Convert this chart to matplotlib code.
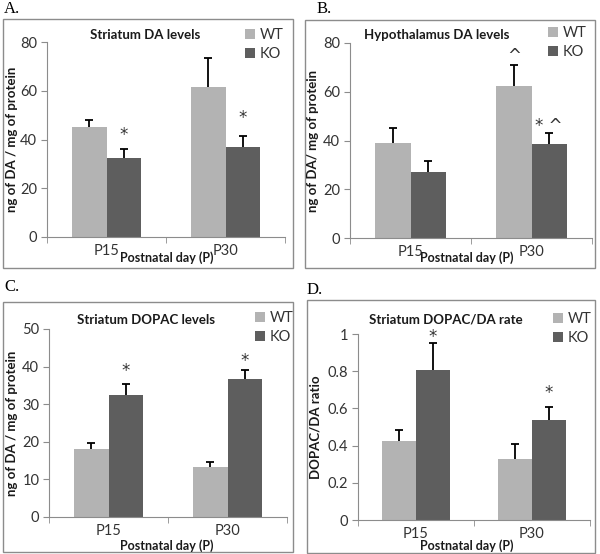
import numpy as np
import matplotlib
matplotlib.use("Agg")
import matplotlib.pyplot as plt
from matplotlib.patches import Rectangle

# data
days = ["P15", "P30"]
groups = ["WT", "KO"]

a_wt = [45.2, 61.5]
a_wt_err = [2.8, 12.0]
a_ko = [32.5, 37.0]
a_ko_err = [3.5, 4.5]

b_wt = [39.0, 62.5]
b_wt_err = [6.3, 8.5]
b_ko = [27.0, 38.5]
b_ko_err = [4.5, 4.5]

c_wt = [18.0, 13.3]
c_wt_err = [1.7, 1.3]
c_ko = [32.5, 36.7]
c_ko_err = [3.0, 2.3]

d_wt = [0.425, 0.33]
d_wt_err = [0.06, 0.08]
d_ko = [0.805, 0.535]
d_ko_err = [0.145, 0.075]

# significance marks: (series, day index, text, y)
a_marks = [("KO", 0, "*", 42.0), ("KO", 1, "*", 49.0)]
b_marks = [("WT", 1, "^", 74.5), ("KO", 1, "* ^", 46.0)]
c_marks = [("KO", 0, "*", 38.8), ("KO", 1, "*", 41.5)]
d_marks = [("KO", 0, "*", 0.985), ("KO", 1, "*", 0.685)]

W, H = 600, 554
WT_COL = "#b3b3b3"
KO_COL = "#5e5e5e"
GRID_COL = "#8c8c8c"
TXT = "#333333"

fig = plt.figure(figsize=(6, 5.54), dpi=100)
fig.patch.set_facecolor("white")


def fx(px):
    return px / W


def fy(py):
    return 1 - py / H


def upper_err(ax, xs, ys, errs):
    ln, caps, bars = ax.errorbar(xs, ys, yerr=[np.zeros(len(ys)), errs],
                                 fmt="none", ecolor="black", elinewidth=1.3,
                                 capsize=3, capthick=1.3, zorder=1)
    caps[0].set_visible(False)  # no cap at the bar top


def panel(letter, lxy, frame, axbox, ymax, ystep, wt, wt_err, ko, ko_err,
          marks, title, title_xy, ylabel, ylab_x, xlab_xy, leg_xy):
    # outer frame
    x0, y0, x1, y1 = frame
    fig.patches.append(Rectangle((fx(x0), fy(y1)), fx(x1 - x0), (y1 - y0) / H,
                                 transform=fig.transFigure, fill=False,
                                 edgecolor=GRID_COL, lw=1.0))
    fig.text(fx(lxy[0]), fy(lxy[1]), letter, family="Liberation Serif",
             fontsize=12, va="center", ha="left")

    l, t, r, b = axbox
    ax = fig.add_axes([fx(l), fy(b), fx(r - l), (b - t) / H])
    x = np.arange(len(days))
    w = 0.29
    bw = ax.bar(x - w / 2, wt, w, color=WT_COL, label="WT", zorder=2)
    bk = ax.bar(x + w / 2, ko, w, color=KO_COL, label="KO", zorder=2)
    upper_err(ax, x - w / 2, wt, wt_err)
    upper_err(ax, x + w / 2, ko, ko_err)

    for grp, i, txt, yv in marks:
        xpos = i - w / 2 if grp == "WT" else i + w / 2
        ax.text(xpos, yv, txt, ha="center", va="center", fontsize=12,
                family="DejaVu Sans", color=TXT)

    ax.set_xlim(-0.5, 1.5)
    ax.set_ylim(0, ymax)
    ax.set_yticks(np.arange(0, ymax + ystep / 2, ystep))
    if ystep < 1:
        ax.set_yticklabels(["0", "0.2", "0.4", "0.6", "0.8", "1"])
    ax.set_xticks(x)
    ax.set_xticklabels(days)
    ax.set_xticks([-0.5, 0.5, 1.5], minor=True)
    ax.tick_params(axis="x", which="major", length=0, pad=5)
    ax.tick_params(axis="x", which="minor", length=4, color=GRID_COL)
    ax.tick_params(axis="y", length=4, color=GRID_COL, pad=3)
    for lab in ax.get_xticklabels() + ax.get_yticklabels():
        lab.set_family("Lato")
        lab.set_fontsize(10.5)
        lab.set_color(TXT)
    for s in ["top", "right"]:
        ax.spines[s].set_visible(False)
    for s in ["left", "bottom"]:
        ax.spines[s].set_color(GRID_COL)
    ax.patch.set_alpha(0)

    fig.text(fx(title_xy[0]), fy(title_xy[1]), title, ha="center", va="center",
             fontsize=9.5, fontweight="bold", family="Lato", color="#1a1a1a")
    fig.text(fx(ylab_x), fy((t + b) / 2), ylabel, rotation=90, ha="center",
             va="center", fontsize=9.5, fontweight="bold", family="Lato",
             color="#1a1a1a")
    fig.text(fx(xlab_xy[0]), fy(xlab_xy[1]), "Postnatal day (P)", ha="center",
             va="center", fontsize=9, fontweight="bold", family="Lato",
             color="#1a1a1a")
    leg = ax.legend([bw, bk], groups, loc="upper left",
                    bbox_to_anchor=(fx(leg_xy[0]), fy(leg_xy[1])),
                    bbox_transform=fig.transFigure, frameon=False,
                    handlelength=0.7, handleheight=0.7, handletextpad=0.3,
                    labelspacing=0.35, borderpad=0, borderaxespad=0,
                    prop={"family": "Lato", "size": 10.5})
    for tx in leg.get_texts():
        tx.set_color(TXT)
    return ax


panel("A.", (4, 9), (3, 19, 293, 268), (47, 42, 285, 237), 80, 20,
      a_wt, a_wt_err, a_ko, a_ko_err, a_marks, "Striatum DA levels", (145, 35),
      "ng of DA / mg of protein", 12, (167, 258), (245, 28))

panel("B.", (317, 9), (305, 20, 595, 268), (350, 43, 592, 238), 80, 20,
      b_wt, b_wt_err, b_ko, b_ko_err, b_marks, "Hypothalamus DA levels",
      (437, 35), "ng of DA/ mg of protein", 313, (467, 258), (548, 26))

panel("C.", (4, 287), (3, 302, 293, 552), (49, 329, 287, 517), 50, 10,
      c_wt, c_wt_err, c_ko, c_ko_err, c_marks, "Striatum DOPAC levels",
      (146, 320), "ng of DA / mg of protein", 12, (167, 546), (255, 311))

panel("D.", (307, 290), (307, 300, 595, 553), (358, 334, 590, 520), 1, 0.2,
      d_wt, d_wt_err, d_ko, d_ko_err, d_marks, "Striatum DOPAC/DA rate",
      (446, 320), "DOPAC/DA ratio", 315, (467, 546), (553, 312))

fig.savefig("out.png", dpi=100)
